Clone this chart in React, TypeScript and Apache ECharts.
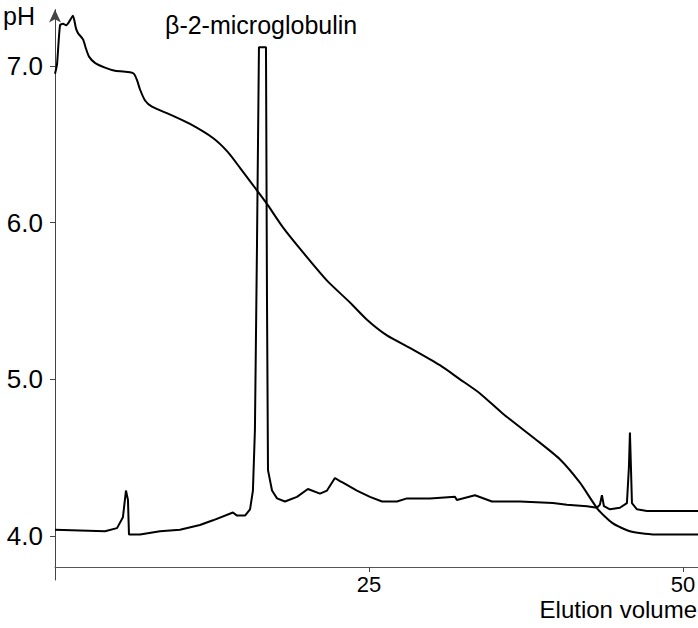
import React, { useEffect, useRef } from "react";
import * as echarts from "echarts";

// pH gradient trace (elution volume, pH)
const phVolume = [
  0, 0.16, 0.4, 0.64, 0.88, 1.11, 1.43, 1.67, 1.83, 2.23, 2.47, 2.71, 3.18, 3.98,
  4.78, 5.97, 6.29, 6.53, 6.77, 7.17, 7.72, 9.16, 10.75, 12.58, 13.77, 14.73,
  16.32, 16.96, 18.15, 19.75, 21.66, 23.49, 24.84, 26.43, 28.5, 30.65, 32.25,
  33.84, 35.67, 38.38, 40.2, 41.8, 43.23, 44.43, 45.78, 47.6, 51.2,
];
const phValue = [
  6.95, 7.01, 7.26, 7.27, 7.26, 7.28, 7.32, 7.24, 7.21, 7.17, 7.11, 7.06, 7.02, 6.99,
  6.97, 6.96, 6.95, 6.91, 6.85, 6.78, 6.74, 6.69, 6.63, 6.54, 6.45, 6.35,
  6.18, 6.11, 5.97, 5.81, 5.63, 5.49, 5.38, 5.28, 5.19, 5.09, 5.0,
  4.91, 4.78, 4.61, 4.49, 4.34, 4.17, 4.08, 4.03, 4.01, 4.01,
];

// absorbance trace drawn on the same scale
const absVolume = [
  0, 3.98, 4.94, 5.41, 5.65, 5.81, 5.89, 6.77, 8.36, 9.95, 11.54, 12.58, 14.17,
  14.49, 15.13, 15.53, 15.76, 15.92, 16.08, 16.24, 16.8, 16.88, 16.96, 17.28,
  17.68, 18.31, 19.27, 20.14, 21.1, 21.66, 22.29, 22.69, 22.93, 24.04, 25.08,
  26.04, 27.23, 28.03, 29.86, 31.85, 32.0, 33.44, 34.79, 37.02, 39.65, 40.76,
  42.36, 43.15, 43.39, 43.55, 43.71, 44.19, 44.98, 45.54, 45.7, 45.78, 45.86,
  45.94, 46.34, 47.13, 51.2,
];
const absValue = [
  4.04, 4.03, 4.05, 4.12, 4.29, 4.23, 4.01, 4.01, 4.03, 4.04, 4.07, 4.1, 4.15,
  4.13, 4.13, 4.17, 4.29, 4.68, 5.83, 7.12, 7.12, 5.51, 4.42, 4.29,
  4.24, 4.22, 4.25, 4.3, 4.27, 4.29, 4.37, 4.35, 4.34, 4.29, 4.25,
  4.22, 4.22, 4.24, 4.24, 4.25, 4.23, 4.26, 4.22, 4.22, 4.21, 4.2,
  4.19, 4.18, 4.2, 4.26, 4.19, 4.17, 4.18, 4.21, 4.44, 4.66, 4.44,
  4.21, 4.17, 4.16, 4.16,
];

const xTicks = [25, 50];
const yTicks = [4, 5, 6, 7];
const peakLabel = "β-2-microglobulin";
const yName = "pH";
const xName = "Elution volume";

const FONT = "'Liberation Sans', Arial, Helvetica, sans-serif";

export default function App() {
  const ref = useRef<HTMLDivElement>(null);
  useEffect(() => {
    document.body.style.margin = "0";
    const chart = echarts.init(ref.current!, null, { renderer: "svg" });
    chart.setOption({
      animation: false,
      backgroundColor: "#fff",
      grid: { left: 55, right: 0, top: 9.6, bottom: 48, outerBoundsMode: "none" },
      xAxis: {
        type: "value",
        min: 0,
        max: 51.2,
        offset: -13,
        splitLine: { show: false },
        axisLine: { lineStyle: { color: "#555", width: 1 } },
        axisTick: { customValues: xTicks, length: 5, lineStyle: { color: "#444" } },
        axisLabel: {
          customValues: xTicks,
          fontSize: 22,
          fontFamily: FONT,
          color: "#000",
          margin: 6,
        },
      },
      yAxis: {
        type: "value",
        min: 3.719,
        max: 7.36,
        splitLine: { show: false },
        axisLine: {
          symbol: ["none", "arrow"],
          symbolSize: [9, 13],
          lineStyle: { color: "#444", width: 1 },
        },
        axisTick: { customValues: yTicks, length: 5, lineStyle: { color: "#444" } },
        axisLabel: {
          customValues: yTicks,
          formatter: (v: number) => v.toFixed(1),
          fontSize: 26,
          fontFamily: FONT,
          color: "#000",
          margin: 12,
        },
      },
      graphic: [
        { type: "text", left: 3, top: 3, style: { text: yName, fontSize: 25, fontFamily: FONT, fill: "#000" } },
        { type: "text", left: 165, top: 12, style: { text: peakLabel, fontSize: 25, fontFamily: FONT, fill: "#000" } },
        { type: "text", right: 1, top: 597, style: { text: xName, fontSize: 24, fontFamily: FONT, fill: "#000" } },
      ],
      series: [
        {
          type: "line",
          name: "pH",
          data: phVolume.map((v, i) => [v, phValue[i]]),
          showSymbol: false,
          smooth: 0.2,
          lineStyle: { color: "#000", width: 2 },
        },
        {
          type: "line",
          name: "Absorbance",
          data: absVolume.map((v, i) => [v, absValue[i]]),
          showSymbol: false,
          lineStyle: { color: "#000", width: 2 },
        },
      ],
    });
    return () => chart.dispose();
  }, []);
  return <div ref={ref} style={{ position: "absolute", left: 0, top: 0, width: 698, height: 628 }} />;
}
